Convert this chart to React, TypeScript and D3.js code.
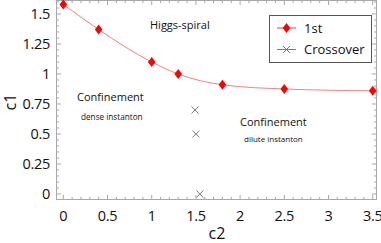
import React from 'react';
import * as d3 from 'd3';

// first-order transition line
const c2First = [0, 0.4, 1.0, 1.3, 1.8, 2.5, 3.5];
const c1First = [1.58, 1.37, 1.1, 1.0, 0.91, 0.875, 0.86];
// crossover points
const c2Cross = [1.49, 1.5, 1.545];
const c1Cross = [0.7, 0.5, 0.0];

const xTicks = [0, 0.5, 1, 1.5, 2, 2.5, 3, 3.5];
const yTicks = [0, 0.25, 0.5, 0.75, 1, 1.25, 1.5];
const xTickLabels = ['0', '0.5', '1', '1.5', '2', '2.5', '3', '3.5'];
const yTickLabels = ['0', '0.25', '0.5', '0.75', '1', '1.25', '1.5'];

const font = '"Open Sans", "DejaVu Sans", sans-serif';

const App = () => {
  const width = 381;
  const height = 243;
  const frame = { left: 56.5, right: 376.5, top: 0.5, bottom: 199.5 };

  const xScale = d3.scaleLinear()
    .domain([-0.077, 3.543])
    .range([frame.left, frame.right]);
  const yScale = d3.scaleLinear()
    .domain([-0.046, 1.6125])
    .range([frame.bottom, frame.top]);

  const xMinor = d3.range(0, 36).map(i => i / 10).filter(v => !xTicks.includes(v));
  const yMinor = d3.range(0, 33).map(i => i / 20).filter(v => v <= 1.61 && !yTicks.includes(v));

  const firstData = c2First.map((c, i) => [c, c1First[i]] as [number, number]);
  const crossData = c2Cross.map((c, i) => [c, c1Cross[i]] as [number, number]);

  const line = d3.line<[number, number]>()
    .x(d => xScale(d[0]))
    .y(d => yScale(d[1]))
    .curve(d3.curveMonotoneX);

  const diamond = (cx: number, cy: number) =>
    `M${cx},${cy - 5}L${cx + 3.8},${cy}L${cx},${cy + 5}L${cx - 3.8},${cy}Z`;
  const cross = (cx: number, cy: number) =>
    `M${cx - 3.5},${cy - 3.5}L${cx + 3.5},${cy + 3.5}M${cx - 3.5},${cy + 3.5}L${cx + 3.5},${cy - 3.5}`;

  const frameColor = '#a8a8a8';
  const lineColor = '#ff7d7d';
  const red = '#ff0000';
  const crossColor = '#7a7a7a';

  const legend = { x: 269.5, y: 15.5, w: 102, h: 47 };

  return (
    <div style={{ position: 'absolute', left: 0, top: 0 }}>
      <svg width={width} height={height} style={{ display: 'block', background: '#fff' }}>
        <rect x={frame.left} y={frame.top} width={frame.right - frame.left} height={frame.bottom - frame.top}
          fill='none' stroke={frameColor} strokeWidth={1} />

        {/* x ticks, bottom and top */}
        {xTicks.map(t => (
          <g key={`xt-${t}`}>
            <line x1={xScale(t)} x2={xScale(t)} y1={frame.bottom} y2={frame.bottom - 4.5} stroke={frameColor} />
            <line x1={xScale(t)} x2={xScale(t)} y1={frame.top} y2={frame.top + 4.5} stroke={frameColor} />
          </g>
        ))}
        {xMinor.map(t => (
          <g key={`xm-${t}`}>
            <line x1={xScale(t)} x2={xScale(t)} y1={frame.bottom} y2={frame.bottom - 2.5} stroke={frameColor} />
            <line x1={xScale(t)} x2={xScale(t)} y1={frame.top} y2={frame.top + 2.5} stroke={frameColor} />
          </g>
        ))}
        {/* y ticks, left and right */}
        {yTicks.map(t => (
          <g key={`yt-${t}`}>
            <line x1={frame.left} x2={frame.left + 4.5} y1={yScale(t)} y2={yScale(t)} stroke={frameColor} />
            <line x1={frame.right} x2={frame.right - 4.5} y1={yScale(t)} y2={yScale(t)} stroke={frameColor} />
          </g>
        ))}
        {yMinor.map(t => (
          <g key={`ym-${t}`}>
            <line x1={frame.left} x2={frame.left + 2.5} y1={yScale(t)} y2={yScale(t)} stroke={frameColor} />
            <line x1={frame.right} x2={frame.right - 2.5} y1={yScale(t)} y2={yScale(t)} stroke={frameColor} />
          </g>
        ))}

        {xTicks.map((t, i) => (
          <text key={`xl-${t}`} x={xScale(t)} y={221} textAnchor='middle' fontFamily={font} fontSize={14.5} letterSpacing={-0.3} fill='#111'>
            {xTickLabels[i]}
          </text>
        ))}
        {yTicks.map((t, i) => (
          <text key={`yl-${t}`} x={50} y={yScale(t) + 5.5} textAnchor='end' fontFamily={font} fontSize={14.5} letterSpacing={-0.3} fill='#111'>
            {yTickLabels[i]}
          </text>
        ))}

        <text x={217} y={239} textAnchor='middle' fontFamily={font} fontSize={16} fill='#111'>c2</text>
        <text transform={`translate(16, 102) rotate(-90)`} textAnchor='middle' fontFamily={font} fontSize={16} fill='#111'>c1</text>

        <path d={line(firstData) || ''} fill='none' stroke={lineColor} strokeWidth={1} />
        {firstData.map((d, i) => (
          <path key={`d-${i}`} d={diamond(xScale(d[0]), yScale(d[1]))} fill={red} />
        ))}
        {crossData.map((d, i) => (
          <path key={`c-${i}`} d={cross(xScale(d[0]), yScale(d[1]))} stroke={crossColor} strokeWidth={1} fill='none' />
        ))}

        <text x={150} y={29} fontFamily={font} fontSize={11} fill='#111'>Higgs-spiral</text>
        <text x={77} y={101} fontFamily={font} fontSize={11} fill='#111'>Confinement</text>
        <text x={81} y={120} fontFamily={font} fontSize={8.2} fill='#111'>dense instanton</text>
        <text x={240} y={126} fontFamily={font} fontSize={11} fill='#111'>Confinement</text>
        <text x={244} y={142} fontFamily={font} fontSize={8} fill='#111'>dilute instanton</text>

        <rect x={legend.x} y={legend.y} width={legend.w} height={legend.h} fill='#fff' stroke='#555' strokeWidth={1} />
        <line x1={277} x2={296} y1={28} y2={28} stroke={lineColor} strokeWidth={1.5} />
        <path d={diamond(286.5, 28)} fill={red} />
        <text x={304} y={32.5} fontFamily={font} fontSize={13} fill='#111'>1st</text>
        <line x1={277} x2={296} y1={49.5} y2={49.5} stroke={crossColor} strokeWidth={1} />
        <path d={cross(286.5, 49.5)} stroke={crossColor} strokeWidth={1} fill='none' />
        <text x={304} y={54} fontFamily={font} fontSize={13} fill='#111'>Crossover</text>
      </svg>
    </div>
  );
};

export default App;
